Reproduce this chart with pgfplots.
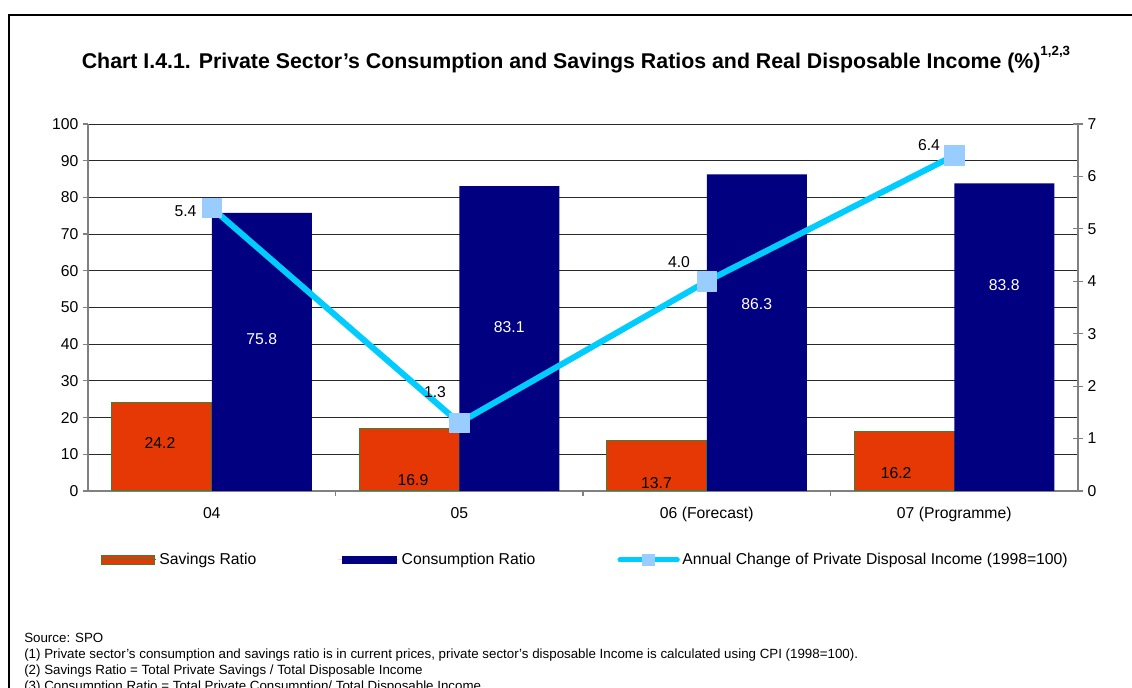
\documentclass[border=0pt]{standalone}
\usepackage{fontspec}
\setmainfont{Liberation Sans}
\usepackage{pgfplots}
\pgfplotsset{compat=1.18}
\definecolor{sav}{RGB}{229,56,5}
\definecolor{savedge}{RGB}{60,130,50}
\definecolor{cons}{RGB}{0,0,128}
\definecolor{linec}{RGB}{0,204,255}
\definecolor{markc}{RGB}{153,204,255}
\definecolor{gridc}{RGB}{40,40,40}
\definecolor{axc}{RGB}{128,128,128}
\newcommand{\lbl}{\fontsize{11.8pt}{14pt}\selectfont}
\begin{document}
\begin{tikzpicture}
\useasboundingbox (0pt,0pt) rectangle (849pt,516pt);
\draw[line width=1.5pt] (6.75pt,-75pt) -- (6.75pt,504.75pt) -- (870pt,504.75pt);
\node[font=\bfseries\fontsize{16pt}{18pt}\selectfont] at (432pt,471pt) {Chart I.4.1. Private Sector’s Consumption and Savings Ratios and Real Disposable Income (\%)\raisebox{0.6em}{\fontsize{10pt}{10pt}\selectfont 1,2,3}};
\node[anchor=north west, align=left, inner sep=0pt, font=\fontsize{10pt}{11.9pt}\selectfont] at (18pt,41.25pt) {Source: SPO\\
(1) Private sector’s consumption and savings ratio is in current prices, private sector’s disposable Income is calculated using CPI (1998=100).\\
(2) Savings Ratio = Total Private Savings / Total Disposable Income\\
(3) Consumption Ratio = Total Private Consumption/ Total Disposable Income};
\begin{axis}[
  at={(66pt,147.75pt)}, anchor=south west,
  scale only axis, width=742.5pt, height=275.25pt,
  xmin=-0.5, xmax=3.5, ymin=0, ymax=100,
  axis x line*=bottom, axis y line*=left,
  axis line style={axc, line width=0.9pt},
  ytick={0,10,...,100},
  xtick={0,1,2,3},
  xticklabels={04,05,06 (Forecast),07 (Programme)},
  minor xtick={0.5,1.5,2.5},
  major x tick style={draw=none},
  tick style={axc, line width=0.9pt},
  tick align=outside,
  major tick length=3.75pt, minor tick length=3.75pt,
  ymajorgrids, grid style={gridc, line width=0.6pt},
  tick label style={font=\lbl},
  xticklabel style={yshift=-5pt},
  /pgf/number format/assume math mode=true,
  clip=false,
  legend style={at={(0.0128,-0.188)}, anchor=west, draw=none, fill=none,
     inner sep=0pt, font=\lbl, legend columns=3,
     /tikz/every even column/.append style={column sep=59.5pt}},
]
\addplot[ybar, bar width=75pt, bar shift=-37.5pt, fill=sav, draw=savedge, line width=0.75pt,
  legend image code/.code={\draw[fill=sav, draw=savedge, line width=0.75pt] (0pt,-3.3pt) rectangle (39.5pt,3.3pt); \path (0pt,0pt) -- (41pt,0pt);}]
  coordinates {(0,24.2) (1,16.9) (2,13.7) (3,16.2)};
\addlegendentry{Savings Ratio}
\addplot[ybar, bar width=75pt, bar shift=37.5pt, fill=cons, draw=none,
  legend image code/.code={\fill[cons] (3pt,-3.3pt) rectangle (44pt,3.3pt); \path (0pt,0pt) -- (45.5pt,0pt);}]
  coordinates {(0,75.8) (1,83.1) (2,86.3) (3,83.8)};
\addlegendentry{Consumption Ratio}
\addlegendimage{linec, line width=3.75pt, line cap=round,
  legend image code/.code={\draw[linec, line width=3.75pt, line cap=round] (0pt,0pt) -- (43pt,0pt);
     \fill[markc] (18.5pt,-2.8pt) rectangle (24.5pt,2.8pt);}}
\addlegendentry{Annual Change of Private Disposal Income (1998=100)}
\node[font=\lbl] at (axis cs:-0.209,13.1) {24.2};
\node[font=\lbl] at (axis cs:0.813,3.0) {16.9};
\node[font=\lbl] at (axis cs:1.797,2.2) {13.7};
\node[font=\lbl] at (axis cs:2.765,4.9) {16.2};
\node[font=\lbl, text=white] at (axis cs:0.202,41.4) {75.8};
\node[font=\lbl, text=white] at (axis cs:1.202,44.7) {83.1};
\node[font=\lbl, text=white] at (axis cs:2.202,51.0) {86.3};
\node[font=\lbl, text=white] at (axis cs:3.202,56.1) {83.8};
\end{axis}
\begin{axis}[
  at={(66pt,147.75pt)}, anchor=south west,
  scale only axis, width=742.5pt, height=275.25pt,
  xmin=-0.5, xmax=3.5, ymin=0, ymax=7,
  axis x line=none, axis y line*=right,
  axis line style={axc, line width=0.9pt},
  ytick={0,1,...,7},
  tick style={axc, line width=0.9pt},
  tick align=center, major tick length=7.5pt,
  tick label style={font=\lbl},
  /pgf/number format/assume math mode=true,
  clip=false,
]
\addplot[linec, line width=4.5pt, line join=round, mark=square*,
  mark options={fill=markc, draw=markc, line width=0.4pt}, mark size=7.3pt]
  coordinates {(0,5.4) (1,1.3) (2,4.0) (3,6.4)};
\node[font=\lbl] at (axis cs:-0.106,5.33) {5.4};
\node[font=\lbl] at (axis cs:0.902,1.89) {1.3};
\node[font=\lbl] at (axis cs:1.888,4.37) {4.0};
\node[font=\lbl] at (axis cs:2.898,6.6) {6.4};
\end{axis}
\end{tikzpicture}
\end{document}
